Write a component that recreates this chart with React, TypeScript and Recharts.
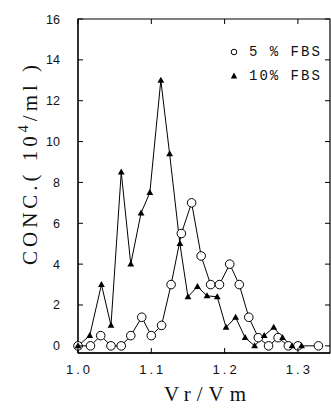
import React from 'react'
import { LineChart, Line, XAxis, YAxis, ReferenceArea } from 'recharts'

// elution position (Vr/Vm) and concentration (10^4 cells/ml)
const fbs5X = [1.0, 1.017, 1.031, 1.045, 1.059, 1.072, 1.087, 1.1, 1.114, 1.127, 1.141, 1.155, 1.168, 1.181, 1.193, 1.207, 1.22, 1.233, 1.246, 1.26, 1.273, 1.287, 1.3, 1.328]
const fbs5Y = [0, 0, 0.5, 0, 0, 0.5, 1.4, 0.5, 1.0, 3.0, 5.5, 7.0, 4.4, 3.0, 3.0, 4.0, 3.0, 1.4, 0.4, 0, 0.4, 0, 0, 0]

const fbs10X = [1.0, 1.016, 1.032, 1.045, 1.059, 1.072, 1.086, 1.098, 1.113, 1.125, 1.139, 1.15, 1.163, 1.176, 1.19, 1.202, 1.215, 1.228, 1.241, 1.254, 1.267, 1.279, 1.292, 1.305]
const fbs10Y = [0, 0.5, 3.0, 1.0, 8.5, 4.0, 6.5, 7.5, 13.0, 9.4, 5.0, 2.4, 2.9, 2.45, 2.4, 0.9, 1.4, 0.4, 0, 0.5, 0.9, 0.4, 0, 0]

const xTicks = [1.0, 1.1, 1.2, 1.3]
const yTicks = [0, 2, 4, 6, 8, 10, 12, 14, 16]

const fbs5 = fbs5X.map((x, i) => ({ x, y: fbs5Y[i] }))
const fbs10 = fbs10X.map((x, i) => ({ x, y: fbs10Y[i] }))

const X_MIN = 1.0
const X_MAX = 1.3438
const Y_MIN = -0.35
const Y_MAX = 16

const PLOT_TOP = 19
const PLOT_RIGHT = 330

const sans = '"Liberation Sans", Arial, sans-serif'
const serif = '"Liberation Serif", "Times New Roman", serif'

// inward ticks: tick x/y arrive offset by tickSize (6) + tickMargin from the axis line
const LeftTick = ({ x, y, payload }: any) => (
  <g>
    <path d={`M${x + 18},${y}h5M${PLOT_RIGHT},${y}h-5`} stroke="#000" fill="none" />
    <text x={x} y={y} dy={4.5} textAnchor="end" fontFamily={sans} fontSize={12.5} fill="#111">
      {payload.value}
    </text>
  </g>
)

const BottomTick = ({ x, y, payload }: any) => (
  <g>
    <path d={`M${x},${y - 11}v-5M${x},${PLOT_TOP}v5`} stroke="#000" fill="none" />
    <text x={x + 1.5} y={y} dy={10} textAnchor="middle" fontFamily={sans} fontSize={13} letterSpacing={3} fill="#111">
      {Number(payload.value).toFixed(1)}
    </text>
  </g>
)

const Triangle = (props: any) => {
  const { cx, cy, index } = props
  if (cx == null || cy == null) return <g key={`t-${index}`} />
  return (
    <path
      key={`t-${index}`}
      d={`M${cx},${cy - 3.6}L${cx + 3.4},${cy + 2.4}L${cx - 3.4},${cy + 2.4}Z`}
      fill="#000"
    />
  )
}

const LegendBox = () => (
  <div
    style={{
      position: 'absolute',
      top: 40,
      left: 228,
      fontFamily: '"Liberation Mono", monospace',
      fontSize: 14,
      letterSpacing: 2,
      color: '#111',
    }}
  >
    <div style={{ display: 'flex', alignItems: 'center', height: 24 }}>
      <svg width={21} height={10}>
        <circle cx={6} cy={5} r={2.8} fill="#fff" stroke="#000" />
      </svg>
      <span>5 % FBS</span>
    </div>
    <div style={{ display: 'flex', alignItems: 'center', height: 24 }}>
      <svg width={21} height={10}>
        <path d="M6,1.5L9.2,7.5L2.8,7.5Z" fill="#000" />
      </svg>
      <span>10% FBS</span>
    </div>
  </div>
)

// axis titles sit on top of the chart
const Titles = () => (
  <svg width={331} height={412} style={{ position: 'absolute', left: 0, top: 0, pointerEvents: 'none' }}>
    <text
      x={37}
      y={163}
      transform="rotate(-90, 37, 163)"
      textAnchor="middle"
      fontFamily={serif}
      fontSize={21}
      letterSpacing={4}
      fill="#111"
    >
      CONC.( 10<tspan fontSize={14} dy={-9}>4</tspan>
      <tspan dy={9}>/ml )</tspan>
    </text>
    <text x={208} y={401} textAnchor="middle" fontFamily={serif} fontSize={21} letterSpacing={6} fill="#111">
      Vr/Vm
    </text>
  </svg>
)

export default function App() {
  return (
    <div style={{ position: 'relative', width: 331, height: 412, background: '#fff' }}>
      <style>{'body{margin:0}'}</style>
      <LineChart width={331} height={412} margin={{ top: PLOT_TOP, right: 331 - PLOT_RIGHT, bottom: 0, left: 0 }}>
        <XAxis
          xAxisId="bottom"
          dataKey="x"
          type="number"
          domain={[X_MIN, X_MAX]}
          ticks={xTicks}
          height={59}
          tickMargin={5}
          axisLine={{ stroke: '#000', strokeWidth: 1.5 }}
          tickLine={false}
          tick={<BottomTick />}
        />
        <YAxis
          yAxisId="left"
          type="number"
          domain={[Y_MIN, Y_MAX]}
          ticks={yTicks}
          width={78}
          tickMargin={12}
          axisLine={{ stroke: '#000', strokeWidth: 1 }}
          tickLine={false}
          tick={<LeftTick />}
        />
        {/* plot frame */}
        <ReferenceArea
          xAxisId="bottom"
          yAxisId="left"
          x1={X_MIN}
          x2={X_MAX}
          y1={Y_MIN}
          y2={Y_MAX}
          fill="none"
          fillOpacity={0}
          stroke="#000"
          strokeWidth={1.2}
          strokeOpacity={1}
          ifOverflow="visible"
        />
        <Line
          xAxisId="bottom"
          yAxisId="left"
          data={fbs5}
          dataKey="y"
          name="5 % FBS"
          stroke="#000"
          strokeWidth={1}
          dot={{ r: 4.3, fill: '#fff', stroke: '#000', strokeWidth: 1 }}
          isAnimationActive={false}
        />
        <Line
          xAxisId="bottom"
          yAxisId="left"
          data={fbs10}
          dataKey="y"
          name="10% FBS"
          stroke="#000"
          strokeWidth={1}
          dot={<Triangle />}
          isAnimationActive={false}
        />
      </LineChart>
      <Titles />
      <LegendBox />
    </div>
  )
}
